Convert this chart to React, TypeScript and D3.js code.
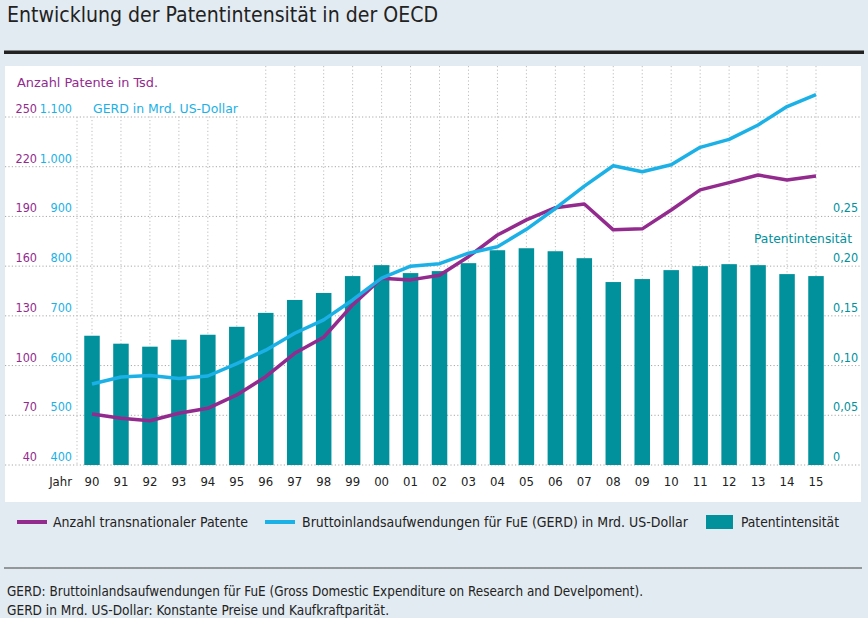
import React from "react";
import * as d3 from "d3";

const years = ["90","91","92","93","94","95","96","97","98","99","00","01","02","03","04","05","06","07","08","09","10","11","12","13","14","15"];
const patents = [70.8,68.2,66.7,71.2,74.2,82.3,93.3,107.4,117.1,136.6,152.7,151.7,154.5,165.7,178.8,187.9,195.3,197.5,181.9,182.5,193.9,206,210.4,215,212,214.4];
const gerd = [563,577,580,574,579,604,631,665,692,732,776,800,805,826,839,874,916,961,1002,990,1004,1039,1055,1084,1121,1145];
const intensity = [0.130,0.122,0.119,0.126,0.131,0.139,0.153,0.166,0.173,0.190,0.201,0.193,0.195,0.203,0.216,0.218,0.215,0.208,0.184,0.187,0.196,0.200,0.202,0.201,0.192,0.190];
const patentTicks = [40,70,100,130,160,190,220,250];
const gerdTicks = [400,500,600,700,800,900,1000,1100];
const intensityTicks = [0,0.05,0.1,0.15,0.2,0.25];

const FONT = "'DejaVu Sans Condensed', 'Liberation Sans Narrow', sans-serif";
const PURPLE = "#932a8e";
const BLUE = "#1bb1e7";
const TEAL = "#00919d";
const BG = "#e2ebf1";

export default function App() {
  const yTop = 117, yBot = 465;
  const x = d3.scalePoint<string>().domain(years).range([92, 816]);
  const yP = d3.scaleLinear().domain([40, 250]).range([yBot, yTop]);
  const yG = d3.scaleLinear().domain([400, 1100]).range([yBot, yTop]);
  const yI = d3.scaleLinear().domain([0, 0.35]).range([yBot, yTop]);
  const barW = 15.5;
  const lineP = d3.line<number>().x((_, i) => x(years[i])!).y(d => yP(d));
  const lineG = d3.line<number>().x((_, i) => x(years[i])!).y(d => yG(d));
  const fmtDe = (v: number) => v === 0 ? "0" : v.toFixed(2).replace(".", ",");
  const fmtG = (v: number) => d3.format(",")(v).replace(/,/g, ".");
  const adj = "spacingAndGlyphs";

  return (
    <svg width={868} height={618} style={{ position: "absolute", left: 0, top: 0 }} fontFamily={FONT}>
      <rect x={0} y={0} width={868} height={618} fill={BG} />
      <text x={7} y={22} fontSize={21} fill="#222" textLength={431} lengthAdjust={adj}>Entwicklung der Patentintensität in der OECD</text>
      <rect x={4} y={50.5} width={860} height={3.5} fill="#222" />
      <rect x={5} y={66} width={856} height={436} fill="#fff" />
      {/* vertical grid */}
      {years.map(yr => (
        <line key={"v" + yr} x1={x(yr)} x2={x(yr)} y1={66} y2={yBot} stroke="#bdbdbd" strokeWidth={1} strokeDasharray="1.2,2.4" />
      ))}
      {/* horizontal grid */}
      {patentTicks.map(t => (
        <line key={"h" + t} x1={5} x2={861} y1={yP(t)} y2={yP(t)} stroke="#a8a8a8" strokeWidth={1} strokeDasharray="1.2,2.2" />
      ))}
      {/* mask top-left label area */}
      <rect x={5} y={66} width={255} height={yTop - 66 - 1} fill="#fff" />
      <line x1={77} x2={77} y1={yTop} y2={yBot} stroke="#bdbdbd" strokeDasharray="1.2,2.4" />
      {/* bars */}
      {intensity.map((v, i) => (
        <rect key={"b" + i} x={x(years[i])! - barW / 2} y={yI(v)} width={barW} height={yBot - yI(v)} fill={TEAL} />
      ))}
      {/* lines */}
      <path d={lineP(patents)!} fill="none" stroke={PURPLE} strokeWidth={3.5} strokeLinejoin="round" />
      <path d={lineG(gerd)!} fill="none" stroke={BLUE} strokeWidth={3.5} strokeLinejoin="round" />
      {/* left axis labels */}
      <text x={17} y={87} fontSize={13} fill={PURPLE} textLength={141} lengthAdjust={adj}>Anzahl Patente in Tsd.</text>
      <text x={93} y={113} fontSize={13} fill={BLUE} textLength={145} lengthAdjust={adj}>GERD in Mrd. US-Dollar</text>
      {patentTicks.map(t => (
        <text key={"lp" + t} x={37} y={yP(t) - 4} fontSize={12.5} fill={PURPLE} textAnchor="end">{t}</text>
      ))}
      {gerdTicks.map(t => (
        <text key={"lg" + t} x={72} y={yG(t) - 4} fontSize={12.5} fill={BLUE} textAnchor="end">{fmtG(t)}</text>
      ))}
      {/* right axis */}
      {intensityTicks.map(t => (
        <text key={"ri" + t} x={833} y={yI(t) - 4} fontSize={12.5} fill={TEAL}>{fmtDe(t)}</text>
      ))}
      <text x={754} y={243} fontSize={13} fill={TEAL} textLength={98} lengthAdjust={adj}>Patentintensität</text>
      {/* x labels */}
      <text x={72} y={486} fontSize={13} fill="#222" textAnchor="end">Jahr</text>
      {years.map(yr => (
        <text key={"x" + yr} x={x(yr)} y={486} fontSize={13} fill="#222" textAnchor="middle">{yr}</text>
      ))}
      {/* legend */}
      <line x1={17} x2={47} y1={522} y2={522} stroke={PURPLE} strokeWidth={4} />
      <text x={53} y={527} fontSize={13.5} fill="#222" textLength={195} lengthAdjust={adj}>Anzahl transnationaler Patente</text>
      <line x1={265} x2={295} y1={522} y2={522} stroke={BLUE} strokeWidth={4} />
      <text x={302} y={527} fontSize={13.5} fill="#222" textLength={386} lengthAdjust={adj}>Bruttoinlandsaufwendungen für FuE (GERD) in Mrd. US-Dollar</text>
      <rect x={706} y={515} width={27} height={14} fill={TEAL} />
      <text x={741} y={527} fontSize={13.5} fill="#222" textLength={98} lengthAdjust={adj}>Patentintensität</text>
      {/* footer */}
      <line x1={4} x2={862} y1={568} y2={568} stroke="#444" strokeWidth={1.2} />
      <text x={7} y={596} fontSize={13.5} fill="#222" textLength={636} lengthAdjust={adj}>GERD: Bruttoinlandsaufwendungen für FuE (Gross Domestic Expenditure on Research and Develpoment).</text>
      <text x={7} y={615} fontSize={13.5} fill="#222" textLength={382} lengthAdjust={adj}>GERD in Mrd. US-Dollar: Konstante Preise und Kaufkraftparität.</text>
    </svg>
  );
}
